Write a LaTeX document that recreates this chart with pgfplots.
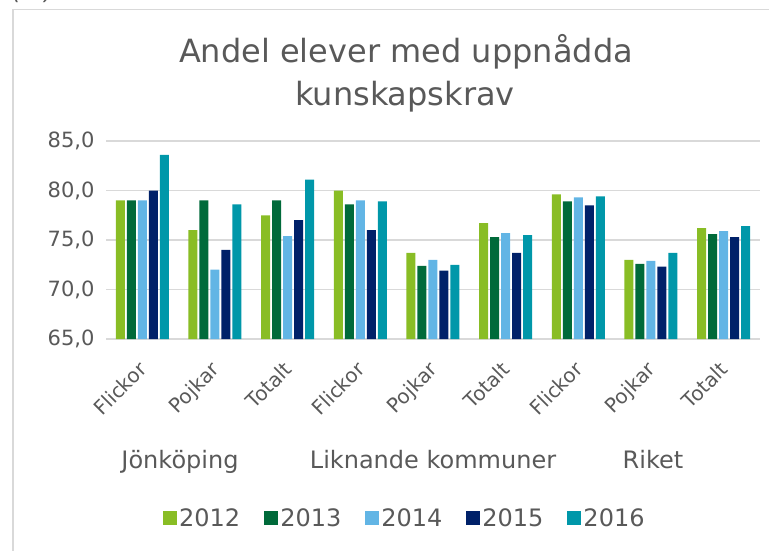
\documentclass[border=0pt]{standalone}
\usepackage{pgfplots}
\pgfplotsset{compat=1.18}
\usepackage{fontspec}
\setmainfont{DejaVu Sans}
\definecolor{c2012}{RGB}{137,189,37}
\definecolor{c2013}{RGB}{0,106,58}
\definecolor{c2014}{RGB}{98,181,229}
\definecolor{c2015}{RGB}{0,33,105}
\definecolor{c2016}{RGB}{0,151,169}
\definecolor{txt}{RGB}{89,89,89}
\definecolor{gridc}{RGB}{217,217,217}
\begin{document}
\begin{tikzpicture}[x=1pt,y=1pt]
\path[use as bounding box] (0,0) rectangle (769,-550);
\draw[gridc, line width=1.5pt] (13,-560) -- (13,-9.5) -- (780,-9.5);
\node[anchor=base west, text=txt, font=\fontsize{24pt}{28pt}\selectfont\itshape, inner sep=0pt] at (12,1) {(\%)};
\node[anchor=base, text=txt, font=\fontsize{32pt}{38pt}\selectfont, inner sep=0pt] at (406,-62) {Andel elever med uppnådda};
\node[anchor=base, text=txt, font=\fontsize{32pt}{38pt}\selectfont, inner sep=0pt] at (405,-105) {kunskapskrav};
\begin{axis}[
  at={(106pt,-339pt)}, anchor=south west,
  scale only axis, width=654pt, height=198pt,
  xmin=-0.5, xmax=8.5, ymin=65, ymax=85,
  ybar=2pt, bar width=9pt,
  axis line style={draw=none},
  ymajorgrids, xmajorgrids=false, major grid style={draw=gridc, line width=1.5pt},
  major tick length=0pt,
  ytick={65,70,75,80,85},
  yticklabel style={font=\fontsize{21pt}{25pt}\selectfont, text=txt, xshift=-8pt,
    /pgf/number format/.cd, fixed, fixed zerofill, precision=1, use comma, assume math mode=true},
  xtick={0,1,2,3,4,5,6,7,8},
  xticklabels={Flickor,Pojkar,Totalt,Flickor,Pojkar,Totalt,Flickor,Pojkar,Totalt},
  xticklabel style={font=\fontsize{20pt}{24pt}\selectfont, text=txt, xshift=-5pt, yshift=-21pt, rotate=45, anchor=north east, inner sep=0pt},
  legend columns=5,
  legend style={draw=none, fill=none, at={(0.457,-0.904)}, anchor=center,
    font=\fontsize{24pt}{28pt}\selectfont, text=txt,
    /tikz/every even column/.append style={column sep=22pt},
    nodes={inner sep=2pt}},
  legend image code/.code={\fill[#1, draw=none] (0pt,-7pt) rectangle (14pt,7pt);},
]
\addplot[fill=c2012, draw=none] coordinates {(0,79.0) (1,76.0) (2,77.5) (3,80.0) (4,73.7) (5,76.7) (6,79.6) (7,73.0) (8,76.2)};
\addplot[fill=c2013, draw=none] coordinates {(0,79.0) (1,79.0) (2,79.0) (3,78.6) (4,72.4) (5,75.3) (6,78.9) (7,72.6) (8,75.6)};
\addplot[fill=c2014, draw=none] coordinates {(0,79.0) (1,72.0) (2,75.4) (3,79.0) (4,73.0) (5,75.7) (6,79.3) (7,72.9) (8,75.9)};
\addplot[fill=c2015, draw=none] coordinates {(0,80.0) (1,74.0) (2,77.0) (3,76.0) (4,71.9) (5,73.7) (6,78.5) (7,72.3) (8,75.3)};
\addplot[fill=c2016, draw=none] coordinates {(0,83.6) (1,78.6) (2,81.1) (3,78.9) (4,72.5) (5,75.5) (6,79.4) (7,73.7) (8,76.4)};
\legend{2012,2013,2014,2015,2016}
\end{axis}
\node[anchor=base, text=txt, font=\fontsize{24pt}{28pt}\selectfont, inner sep=0pt] at (180,-468) {Jönköping};
\node[anchor=base, text=txt, font=\fontsize{24pt}{28pt}\selectfont, inner sep=0pt] at (433,-468) {Liknande kommuner};
\node[anchor=base, text=txt, font=\fontsize{24pt}{28pt}\selectfont, inner sep=0pt] at (653,-468) {Riket};
\end{tikzpicture}
\end{document}
